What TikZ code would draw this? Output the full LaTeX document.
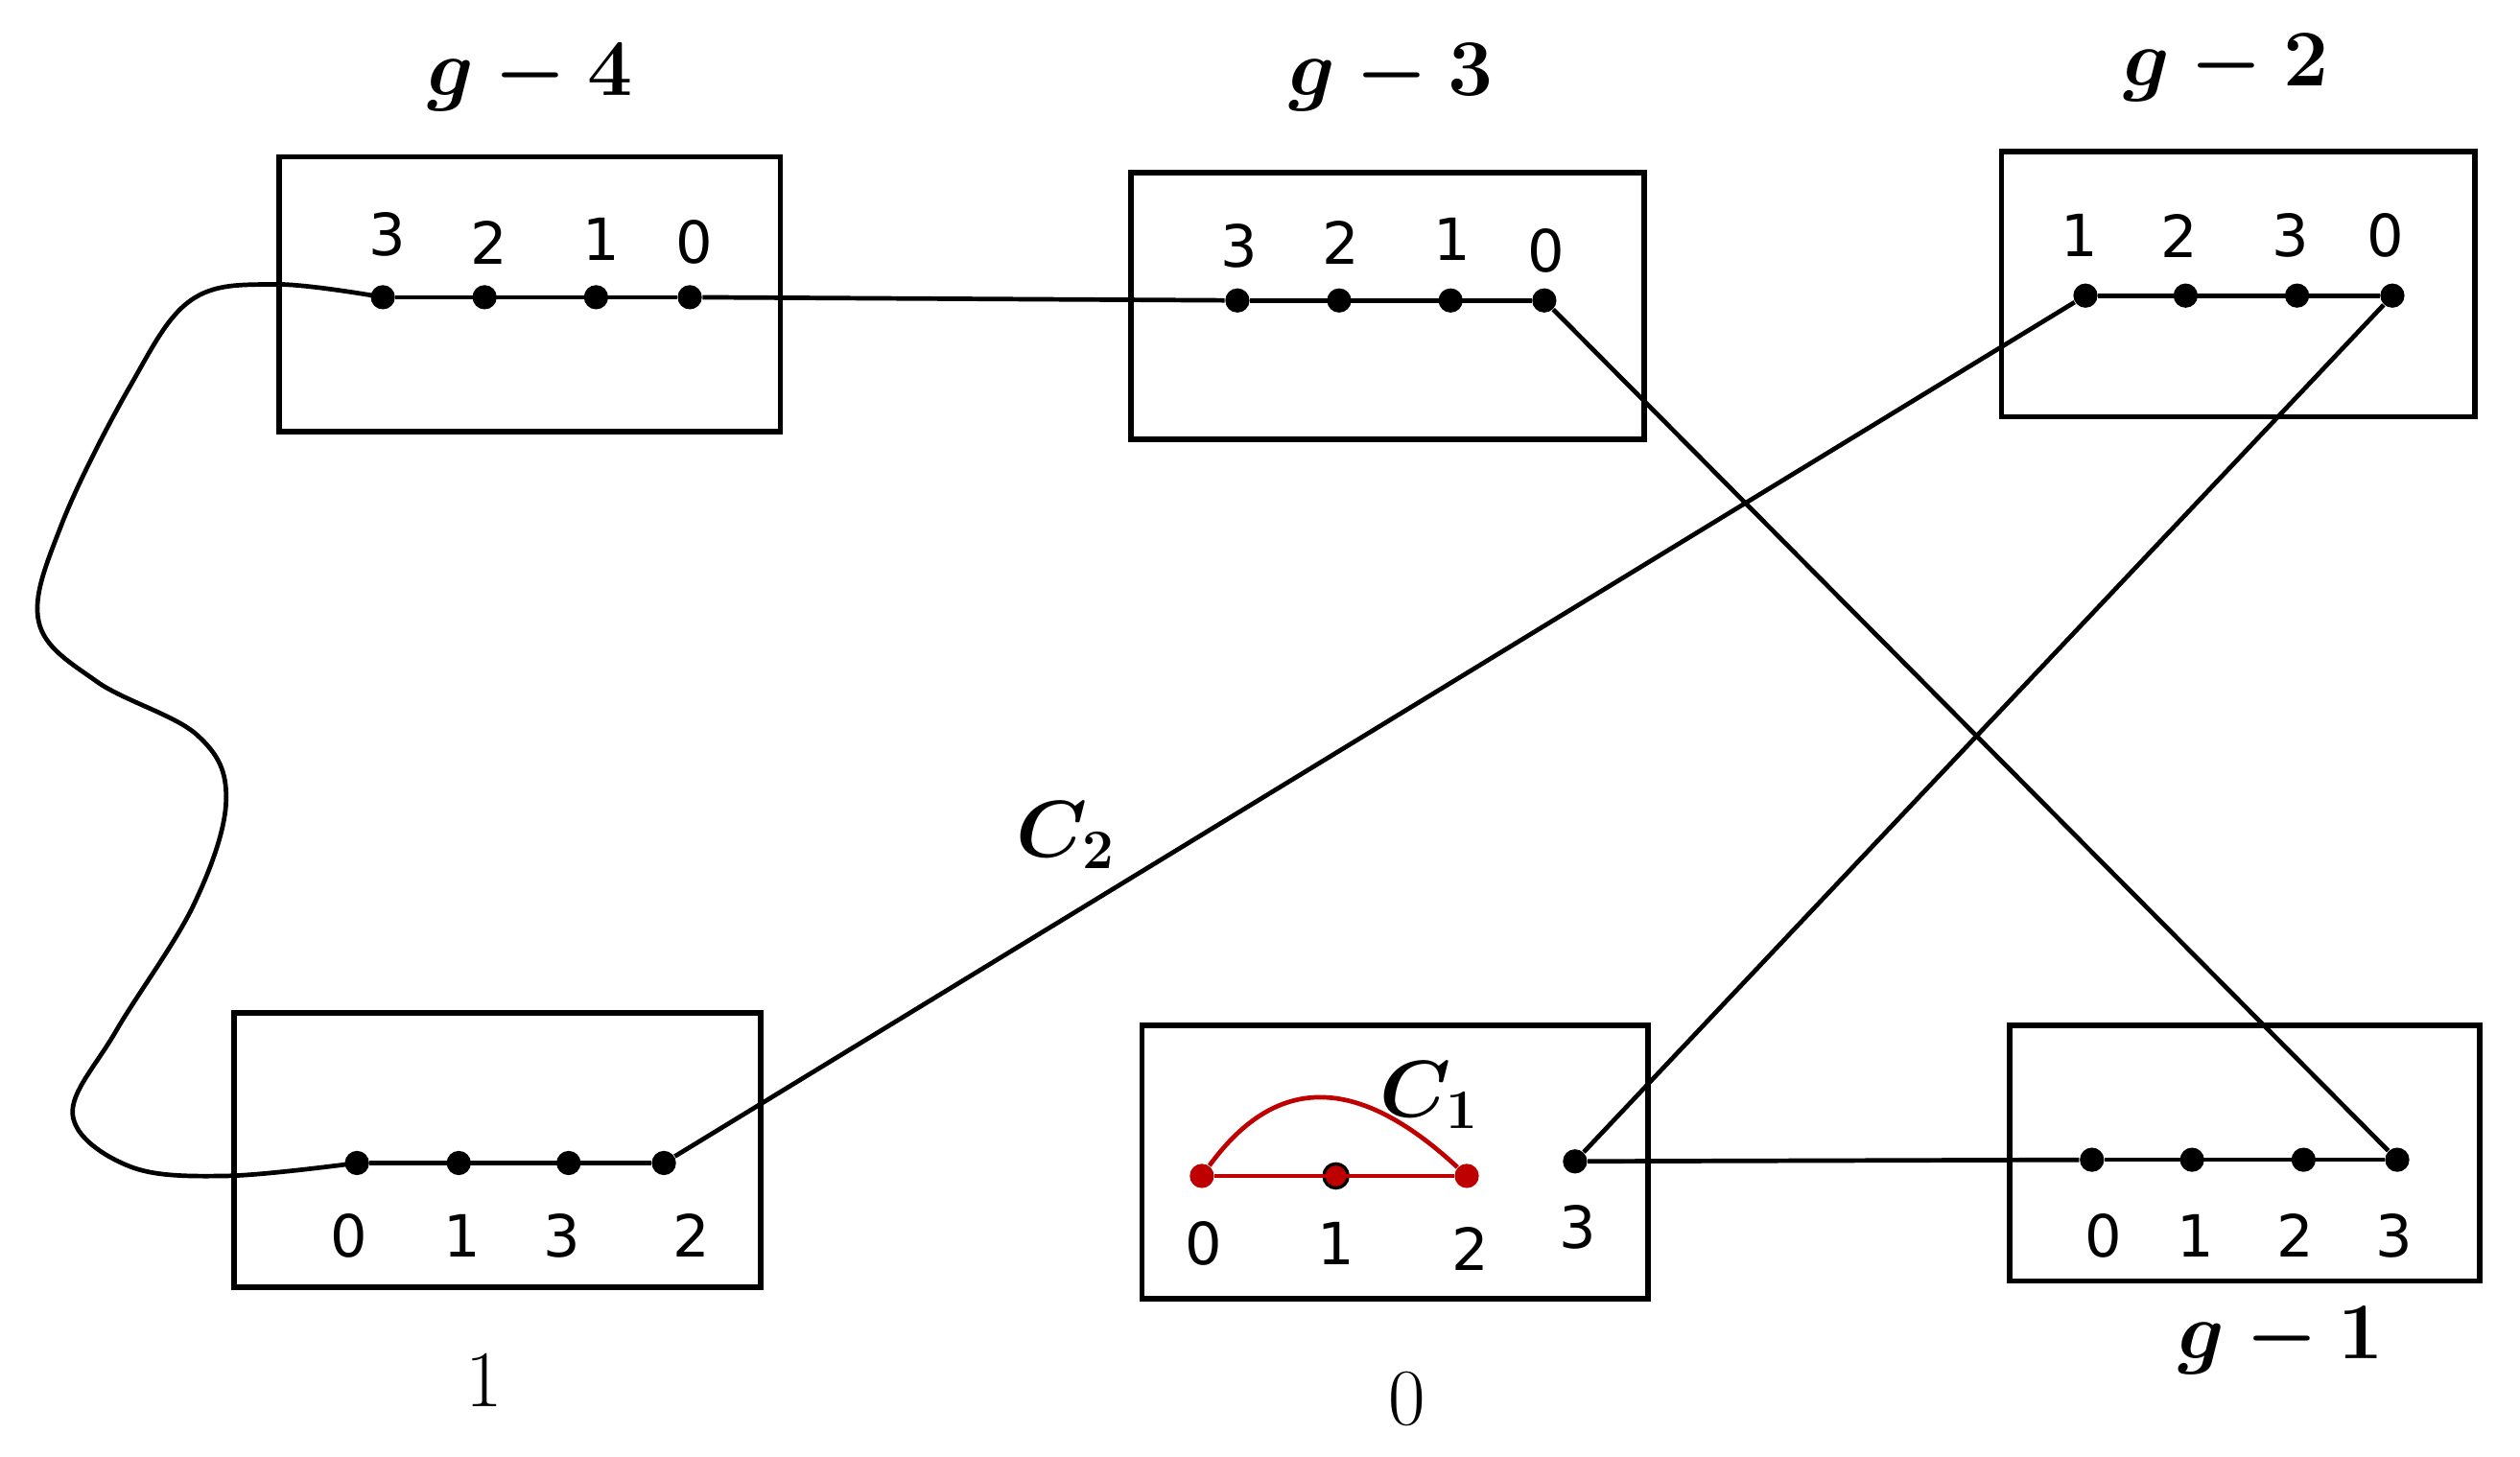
\documentclass[tikz,border=0pt]{standalone}
\usepackage{fontspec}
\usepackage{amsmath}
\newfontfamily\dig{DejaVu Sans}
\begin{document}
\begin{tikzpicture}[x=0.5pt,y=-0.5pt,
  box/.style={draw,line width=1.7pt},
  dot/.style={circle,fill,inner sep=0pt,minimum size=7.5pt},
  rdot/.style={circle,fill=red!75!black,inner sep=0pt,minimum size=7.5pt},
  lab/.style={font=\dig\fontsize{18}{20}\selectfont},
  ttl/.style={font=\fontsize{24}{28}\selectfont},
  ln/.style={line width=1.4pt}]
\useasboundingbox (0,0) rectangle (1560,902);
% boxes
\draw[box] (173,97) rectangle (483,267);
\draw[box] (700,107) rectangle (1018,272);
\draw[box] (1239,94) rectangle (1532,258);
\draw[box] (145,627) rectangle (471,797);
\draw[box] (707,635) rectangle (1020,804);
\draw[box] (1244,635) rectangle (1535,793);
% titles
\node[ttl] (t4) at (328,48) {$\boldsymbol{g-4}$};
\node[ttl] (t3) at (861,48) {$\boldsymbol{g-3}$};
\node[ttl] (t2) at (1378,42) {$\boldsymbol{g-2}$};
\node[ttl] (t1) at (300,855) {$1$};
\node[ttl] (t0) at (871,866) {$0$};
\node[ttl] (tg1) at (1412,830) {$\boldsymbol{g-1}$};
% box g-4
\foreach \n/\x/\l/\ly in {a3/237/3/145,a2/300/2/150,a1/369/1/148,a0/427/0/150}{
  \node[dot] (\n) at (\x,184) {}; \node[lab] at (\x+3,\ly) {\l};}
\draw[ln] (a3)--(a0);
% box g-3
\foreach \n/\x/\l/\ly in {b3/766/3/152,b2/829/2/150,b1/898/1/148,b0/956/0/155}{
  \node[dot] (\n) at (\x,186) {}; \node[lab] at (\x+1,\ly) {\l};}
\draw[ln] (b3)--(b0);
% box g-2
\foreach \n/\x/\l in {c1/1291/1,c2/1353/2,c3/1422/3,c0/1481/0}{
  \node[dot] (\n) at (\x,183) {}; \node[lab] at (\x-4,146) {\l};}
\draw[ln] (c1)--(c0);
% box 1
\foreach \n/\x/\l/\lx in {d0/221/0/216,d1/284/1/286,d3/352/3/348,d2/411/2/428}{
  \node[dot] (\n) at (\x,720) {}; \node[lab] at (\lx,765) {\l};}
\draw[ln] (d0)--(d2);
% box g-1
\foreach \n/\x/\l/\lx in {f0/1295/0/1302,f1/1357/1/1359,f2/1426/2/1421,f3/1484/3/1482}{
  \node[dot] (\n) at (\x,718) {}; \node[lab] at (\lx,765) {\l};}
\draw[ln] (f0)--(f3);
% box 0
\node[rdot] (e0) at (744,728) {};
\node[rdot,draw=black,line width=1pt] (e1) at (827,728) {};
\node[rdot] (e2) at (908,728) {};
\node[lab] at (745,770) {0};
\node[lab] at (827,770) {1};
\node[lab] at (910,773) {2};
\draw[ln,red!75!black] (e0)--(e2);
\draw[ln,red!75!black] (e0) .. controls (790,665) and (840,665) .. (e2);
\node[ttl] (C1) at (885,678) {$\boldsymbol{C_1}$};
\node[dot] (e3) at (975,719) {};
\node[lab] at (977,760) {3};
% connectors
\draw[ln] (a0)--(b3);
\draw[ln] (b0)--(f3);
\draw[ln] (c1)--(d2);
\draw[ln] (c0)--(e3);
\draw[ln] (e3)--(f0);
\node[ttl,fill=white,inner sep=1pt] (C2) at (660,517) {$\boldsymbol{C_2}$};
\draw[ln] plot[smooth,tension=0.6] coordinates {(237,184) (170,176) (118,186) (80,240) (38,325) (24,385) (60,422) (122,455) (140,495) (120,560) (72,638) (45,690) (80,722) (140,728) (221,720)};
\end{tikzpicture}
\end{document}
